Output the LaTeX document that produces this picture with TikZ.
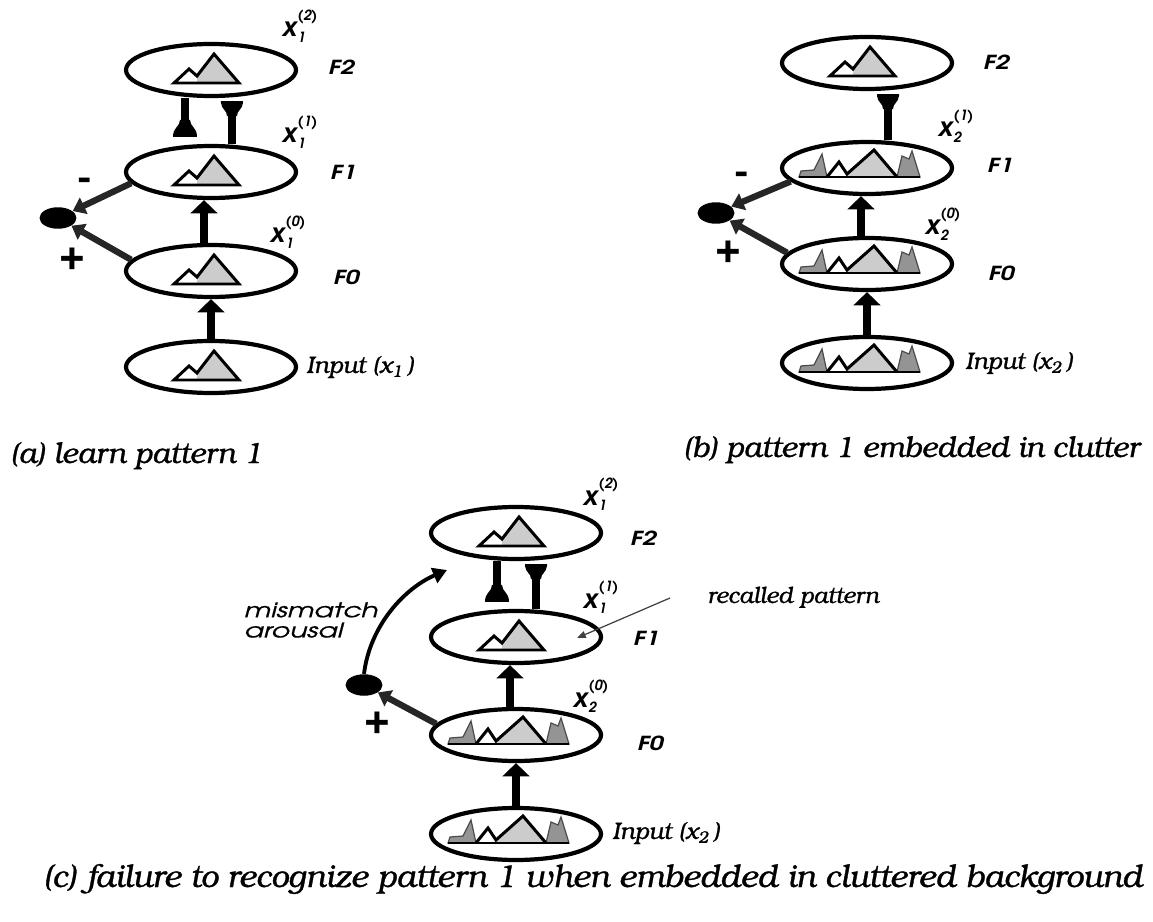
\documentclass[tikz,border=0pt]{standalone}
\usepackage{fontspec}
\setmainfont{texgyrebonum}[Extension=.otf,UprightFont=*-regular,ItalicFont=*-italic,BoldFont=*-bold,BoldItalicFont=*-bolditalic]
\newfontfamily\adv{texgyreadventor}[Extension=.otf,UprightFont=*-regular,ItalicFont=*-italic,BoldFont=*-bold,BoldItalicFont=*-bolditalic]
\newfontfamily\advwide{texgyreadventor}[Extension=.otf,UprightFont=*-regular,ItalicFont=*-italic,BoldFont=*-bold,BoldItalicFont=*-bolditalic,FakeStretch=1.3]
\newfontfamily\advwider{texgyreadventor-italic.otf}[FakeStretch=1.4,FakeBold=0.6]
\newfontfamily\bkit{texgyrebonum-italic.otf}[FakeBold=1]
\usepackage{tikz}
\usetikzlibrary{arrows.meta,shapes.geometric,positioning}
\definecolor{patgray}{gray}{0.80}
\definecolor{clutgray}{gray}{0.58}

\newcommand{\xfont}{\adv\bfseries\itshape\fontsize{15}{15}\selectfont}
\newcommand{\scfont}{\adv\bfseries\itshape\fontsize{8}{8}\selectfont}
\newcommand{\xlab}[2]{{\xfont x}\kern0.3pt\rlap{\raisebox{9.5pt}{\scfont(#2)}}\raisebox{-3pt}{\scfont #1}}

% pattern 1, drawn round the centre of a layer
\newcommand{\patone}[1]{%
  \begin{scope}[shift={(#1.center)}]
    \fill[patgray] (-14,6) -- (3,-16) -- (28,13) -- (-14,13) -- cycle;
    \draw[pat] (-37,13) -- (-22,-1) -- (-14,6) -- (3,-16) -- (28,13) -- cycle;
  \end{scope}}
% pattern 1 in clutter
\newcommand{\pattwo}[1]{%
  \begin{scope}[shift={(#1.center)}]
    \filldraw[clutgray, draw=black!70, line width=0.7pt] (-68,9) -- (-66,3) -- (-53,2) -- (-45,-14) -- (-40,9) -- cycle;
    \filldraw[clutgray, draw=black!70, line width=0.7pt] (30,9) -- (35,-12) -- (42,-9) -- (45,-17) -- (53,9) -- cycle;
    \fill[patgray] (-20,6) -- (7,-18) -- (30,9) -- (-20,9) -- cycle;
    \draw[pat] (-40,9) -- (-28,-6) -- (-20,6) -- (7,-18) -- (30,9);
    \draw[pat] (-68,9) -- (53,9);
  \end{scope}}
% top-down trace ending in a knob, and bottom-up trace ending in a cup
\newcommand{\ltmknob}[1]{%
  \fill[shift={(#1)}] (-12,0) -- (12,0) .. controls (12,-10) and (5,-10) .. (5,-17)
    -- (-5,-17) .. controls (-5,-10) and (-12,-10) .. (-12,0) -- cycle;}
\newcommand{\ltmcup}[1]{%
  \fill[shift={(#1)}] (-11,0) -- (11,0) -- (11,2) .. controls (10,9) and (5,9) .. (5,15)
    -- (-5,15) .. controls (-5,9) and (-10,9) .. (-11,2) -- cycle;}

\begin{document}
\begin{tikzpicture}[x=0.02cm, y=-0.02cm,
  layer/.style={ellipse, draw, line width=2.4pt, minimum width=3.4cm, minimum height=1.04cm, inner sep=0pt},
  dot/.style={ellipse, fill=black, minimum width=0.74cm, minimum height=0.43cm, inner sep=0pt},
  up/.style={line width=4.5pt, -{Triangle[width=15pt,length=7.5pt]}},
  diag/.style={line width=3.6pt, black!85, -{Triangle[width=10pt,length=7pt]}},
  ltm/.style={line width=5pt},
  pat/.style={line width=1.7pt, line join=miter},
  lbl/.style={font=\advwide\bfseries\itshape\fontsize{11}{11}\selectfont, anchor=base west, inner sep=0pt},
  sign/.style={font=\adv\bfseries\fontsize{22}{22}\selectfont, inner sep=0pt},
  xl/.style={anchor=base west, inner sep=0pt},
  inlbl/.style={font=\bkit\fontsize{13.5}{13.5}\selectfont, anchor=west, inner sep=0pt},
  captxt/.style={font=\bkit\fontsize{16.6}{16.6}\selectfont, anchor=base west, inner sep=0pt}]
  \useasboundingbox (0,0) rectangle (1153,922);

  % (a) learn pattern 1
  \node[layer] (F2a) at (211,70) {};
  \node[layer] (F1a) at (211,172) {};
  \node[layer] (F0a) at (211,271) {};
  \node[layer] (Ina) at (211,367) {};
  \patone{F2a} \patone{F1a} \patone{F0a} \patone{Ina}
  \node[dot] (dota) at (58,218) {};

  \coordinate (kna) at ([xshift=-0.52cm,yshift=0.14cm]F1a.north);
  \coordinate (cpa) at ([xshift=0.42cm,yshift=-0.06cm]F2a.south);
  \draw[ltm] ([xshift=-0.52cm]F2a.south) -- (kna);
  \ltmknob{kna}
  \draw[ltm] ([xshift=0.42cm]F1a.north) -- (cpa);
  \ltmcup{cpa}
  \draw[up] ([xshift=-0.14cm]F0a.north) -- ([xshift=-0.14cm]F1a.south);
  \draw[up] (Ina) -- (F0a);
  \draw[diag] (F1a.188) -- (dota);
  \draw[diag] (F0a.172) -- (dota);

  \node[sign] (mina) at (85,185) {-};
  \node[sign] (plsa) at (72,259) {+};
  \node[xl] (xF2a) at (282,37) {\xlab{1}{2}};
  \node[xl] (xF1a) at (282,143) {\xlab{1}{1}};
  \node[xl] (xF0a) at (270,243) {\xlab{1}{0}};
  \node[lbl] (lF2a) at (328,75) {F2};
  \node[lbl] (lF1a) at (330,180) {F1};
  \node[lbl] (lF0a) at (333,285) {F0};
  \node[inlbl] (lIna) at (306,367) {Input (x\textsubscript{1}\,)};
  \node[captxt] (capa) at (10,463) {(a) learn pattern 1};

  % (b) pattern 1 embedded in clutter
  \node[layer] (F2b) at (867,63) {};
  \node[layer] (F1b) at (867,168) {};
  \node[layer] (F0b) at (867,264) {};
  \node[layer] (Inb) at (867,363) {};
  \patone{F2b} \pattwo{F1b} \pattwo{F0b} \pattwo{Inb}
  \node[dot] (dotb) at (716,213) {};

  \coordinate (cpb) at ([xshift=0.42cm,yshift=-0.06cm]F2b.south);
  \draw[ltm] ([xshift=0.42cm]F1b.north) -- (cpb);
  \ltmcup{cpb}
  \draw[up] ([xshift=-0.12cm]F0b.north) -- ([xshift=-0.12cm]F1b.south);
  \draw[up] (Inb) -- (F0b);
  \draw[diag] (F1b.190) -- (dotb);
  \draw[diag] (F0b.172) -- (dotb);

  \node[sign] (minb) at (742,179) {-};
  \node[sign] (plsb) at (728,252) {+};
  \node[xl] (xF1b) at (938,137) {\xlab{2}{1}};
  \node[xl] (xF0b) at (925,235) {\xlab{2}{0}};
  \node[lbl] (lF2b) at (983,70) {F2};
  \node[lbl] (lF1b) at (987,173) {F1};
  \node[lbl] (lF0b) at (988,280) {F0};
  \node[inlbl] (lInb) at (965,363) {Input (x\textsubscript{2}\,)};
  \node[captxt] (capb) at (683,457) {(b) pattern 1 embedded in clutter};

  % (c) failure to recognize
  \node[layer] (F2c) at (516,533) {};
  \node[layer] (F1c) at (516,637) {};
  \node[layer] (F0c) at (516,735) {};
  \node[layer] (Inc) at (516,834) {};
  \patone{F2c} \patone{F1c} \pattwo{F0c} \pattwo{Inc}
  \node[dot] (dotc) at (364,685) {};

  \coordinate (knc) at ([xshift=-0.38cm,yshift=0.14cm]F1c.north);
  \coordinate (cpc) at ([xshift=0.4cm,yshift=-0.06cm]F2c.south);
  \draw[ltm] ([xshift=-0.38cm]F2c.south) -- (knc);
  \ltmknob{knc}
  \draw[ltm] ([xshift=0.4cm]F1c.north) -- (cpc);
  \ltmcup{cpc}
  \draw[up] ([xshift=-0.12cm]F0c.north) -- ([xshift=-0.12cm]F1c.south);
  \draw[up] (Inc) -- (F0c);
  \draw[diag] (F0c.172) -- (dotc);
  \coordinate (mmtip) at (447,570);
  \draw[line width=2.2pt, -{Triangle[width=9pt,length=8pt]}] (dotc.north) .. controls (370,625) and (405,588) .. (mmtip);
  \coordinate (rps) at (670,598);
  \coordinate (rpe) at (577,638);
  \draw[line width=0.7pt, black!75, -{Triangle[width=4pt,length=5pt]}] (rps) -- (rpe);

  \node[sign] (plsc) at (377,723) {+};
  \node[xl] (xF2c) at (583,505) {\xlab{1}{2}};
  \node[xl] (xF1c) at (583,608) {\xlab{1}{1}};
  \node[xl] (xF0c) at (573,707) {\xlab{2}{0}};
  \node[lbl] (lF2c) at (630,545) {F2};
  \node[lbl] (lF1c) at (633,645) {F1};
  \node[lbl] (lF0c) at (637,750) {F0};
  \node[inlbl] (lInc) at (612,833) {Input (x\textsubscript{2}\,)};
  \node[font=\advwider\fontsize{11.5}{11.5}\selectfont, align=left, anchor=west, inner sep=0pt] (mism) at (244,620) {mismatch\\arousal};
  \node[font=\bkit\fontsize{13}{13}\selectfont, anchor=base west, inner sep=0pt] (recl) at (707,603) {recalled pattern};
  \node[captxt, font=\bkit\fontsize{18}{18}\selectfont] (capc) at (43,887) {(c) failure to recognize pattern 1 when embedded in cluttered background};
\end{tikzpicture}
\end{document}
